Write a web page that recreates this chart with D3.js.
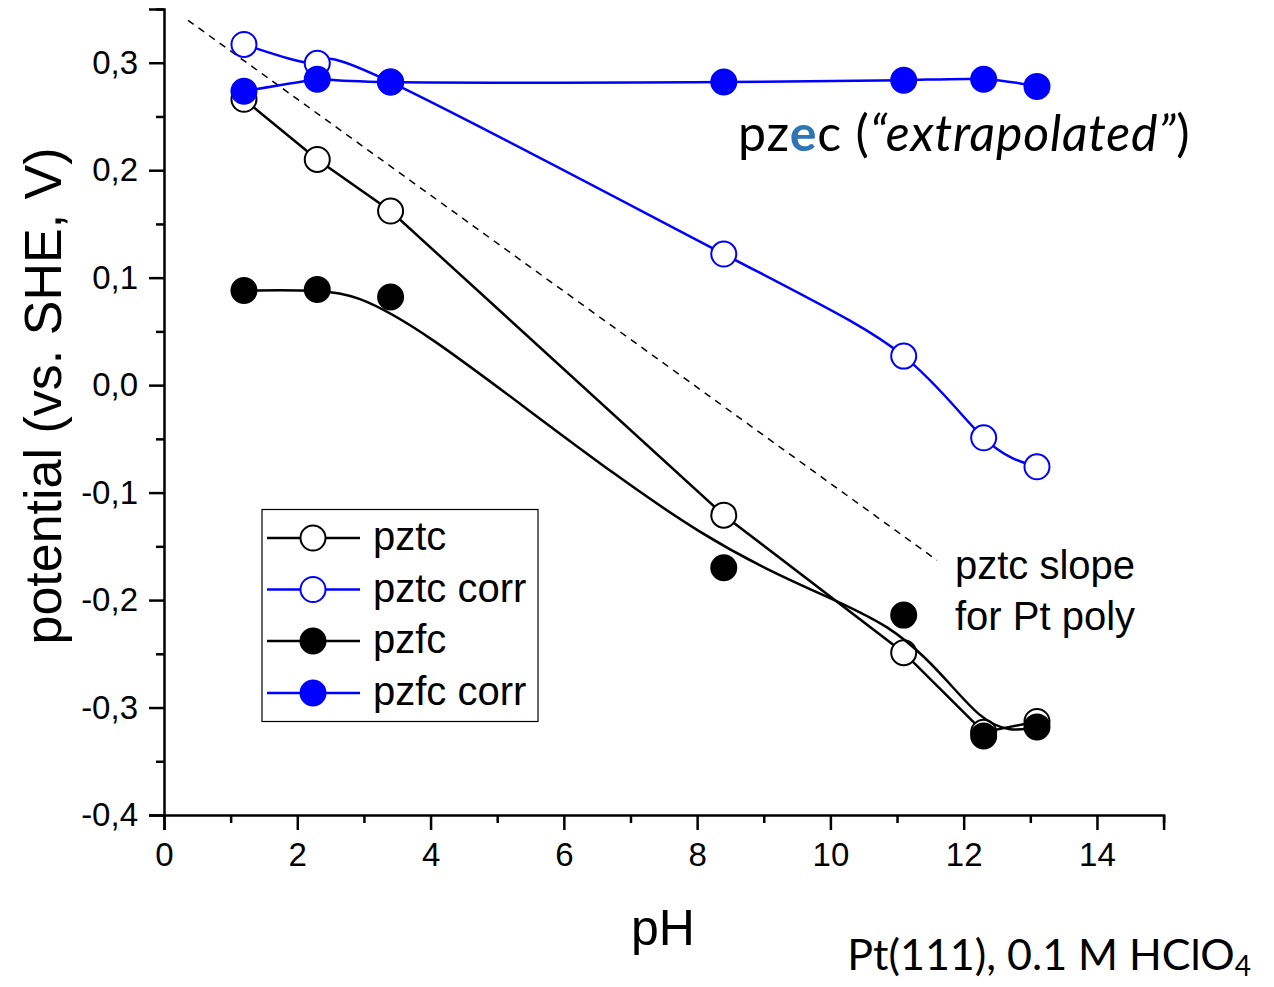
<!DOCTYPE html>
<html><head><meta charset="utf-8">
<script src="https://cdn.jsdelivr.net/npm/d3@7"></script>
<style>body{margin:0;background:#fff}svg{display:block}</style>
</head><body>
<svg id="c" width="1274" height="987"></svg>
<script>
const pH = [1.2, 2.3, 3.4, 8.4, 11.1, 12.3, 13.1];
const pztc = [0.266, 0.210, 0.162, -0.121, -0.249, -0.323, -0.313];
const pztcCorr = [0.317, 0.2995, 0.282, 0.122, 0.027, -0.049, -0.076];
const pzfc = [0.088, 0.089, 0.082, -0.170, -0.214, -0.3265, -0.318];
const pzfcCorr = [0.2735, 0.2847, 0.282, 0.282, 0.2837, 0.2847, 0.278];
const slopeLine = [[0.36, 0.3395], [11.6, -0.163]];
const xMajor = [0, 2, 4, 6, 8, 10, 12, 14];
const xMinor = [1, 3, 5, 7, 9, 11, 13, 15];
const yMajor = [-0.4, -0.3, -0.2, -0.1, 0.0, 0.1, 0.2, 0.3];
const yMinor = [-0.35, -0.25, -0.15, -0.05, 0.05, 0.15, 0.25, 0.35];
const legendLabels = ["pztc", "pztc corr", "pzfc", "pzfc corr"];

const svg = d3.select("#c");
const x = d3.scaleLinear().domain([0, 15]).range([164, 1163.6]);
const y = d3.scaleLinear().domain([-0.4, 0.35]).range([815, 9]);
const fmt = v => d3.format(".1f")(v).replace(".", ",").replace("\u2212", "-");
const AR = "'Liberation Sans', Arial, sans-serif";
const CAL = "Lato, 'Open Sans', sans-serif";

// axes
const gx = svg.append("g").attr("transform", `translate(0,${y(-0.4)})`);
gx.call(d3.axisBottom(x).tickValues(xMajor).tickSize(15).tickPadding(13).tickFormat(d3.format("d")));
gx.append("g").attr("class", "minor").call(d3.axisBottom(x).tickValues(xMinor).tickSize(8).tickFormat(""));
const gy = svg.append("g").attr("transform", `translate(${x(0)},0)`);
gy.call(d3.axisLeft(y).tickValues(yMajor).tickSize(15).tickPadding(11).tickFormat(fmt));
gy.append("g").attr("class", "minor").call(d3.axisLeft(y).tickValues(yMinor).tickSize(8).tickFormat(""));
svg.selectAll(".minor .domain").remove();
svg.selectAll(".domain").attr("stroke", "#000").attr("stroke-width", 2.5);
svg.selectAll(".tick line").attr("stroke", "#000").attr("stroke-width", 2.5);
svg.selectAll(".tick text").attr("font-family", AR).attr("font-size", 33).attr("fill", "#000");

// dashed slope line
svg.append("line")
  .attr("x1", x(slopeLine[0][0])).attr("y1", y(slopeLine[0][1]))
  .attr("x2", x(slopeLine[1][0])).attr("y2", y(slopeLine[1][1]))
  .attr("stroke", "#000").attr("stroke-width", 1.5).attr("stroke-dasharray", "7,6");

const series = [
  {vals: pztc, color: "#000", fill: "#fff", curve: d3.curveLinear},
  {vals: pztcCorr, color: "#0000ff", fill: "#fff", curve: d3.curveNatural},
  {vals: pzfc, color: "#000", fill: "#000", curve: d3.curveBasis},
  {vals: pzfcCorr, color: "#0000ff", fill: "#0000ff", curve: d3.curveNatural}
];
const R = 12.5;
series.forEach(s => {
  const pts = pH.map((p, i) => [p, s.vals[i]]);
  svg.append("path")
    .attr("d", d3.line().x(d => x(d[0])).y(d => y(d[1])).curve(s.curve)(pts))
    .attr("fill", "none").attr("stroke", s.color).attr("stroke-width", 2.5);
  svg.selectAll(null).data(pts).enter().append("circle")
    .attr("cx", d => x(d[0])).attr("cy", d => y(d[1])).attr("r", R)
    .attr("fill", s.fill).attr("stroke", s.color).attr("stroke-width", 2);
});

// legend
svg.append("rect").attr("x", 262).attr("y", 509.5).attr("width", 276).attr("height", 212)
  .attr("fill", "#fff").attr("stroke", "#000").attr("stroke-width", 1.2);
const legY = [538, 589.5, 641, 693];
series.forEach((s, i) => {
  const g = svg.append("g");
  g.append("line").attr("x1", 267).attr("x2", 360).attr("y1", legY[i]).attr("y2", legY[i])
    .attr("stroke", s.color).attr("stroke-width", 2.5);
  g.append("circle").attr("cx", 313).attr("cy", legY[i]).attr("r", R)
    .attr("fill", s.fill).attr("stroke", s.color).attr("stroke-width", 2);
  g.append("text").attr("x", 373).attr("y", legY[i]).attr("dy", "0.3em")
    .attr("font-family", AR).attr("font-size", 40).text(legendLabels[i]);
});

// axis titles
svg.append("text").attr("transform", "translate(61,396) rotate(-90)")
  .attr("text-anchor", "middle").attr("font-family", AR).attr("font-size", 52)
  .text("potential (vs. SHE, V)");
svg.append("text").attr("x", 663).attr("y", 945).attr("text-anchor", "middle")
  .attr("font-family", AR).attr("font-size", 50).text("pH");

// annotations
const t1 = svg.append("text").attr("x", 738).attr("y", 151)
  .attr("font-family", CAL).attr("font-size", 50).attr("letter-spacing", 0.8);
t1.append("tspan").text("pz");
t1.append("tspan").attr("fill", "#2e75b6").attr("font-weight", "bold").text("e");
t1.append("tspan").text("c (");
t1.append("tspan").attr("font-style", "italic").text("\u201Cextrapolated\u201D");
t1.append("tspan").text(")");

svg.append("text").attr("x", 955).attr("y", 579).attr("font-family", AR).attr("font-size", 40).text("pztc slope");
svg.append("text").attr("x", 955).attr("y", 630).attr("font-family", AR).attr("font-size", 40).text("for Pt poly");

const t2 = svg.append("text").attr("x", 1251).attr("y", 970).attr("text-anchor", "end")
  .attr("font-family", CAL).attr("font-size", 43);
t2.append("tspan").text("Pt(111), 0.1 M HClO");
t2.append("tspan").attr("font-size", 28).attr("dy", 6).text("4");
</script>
</body></html>
